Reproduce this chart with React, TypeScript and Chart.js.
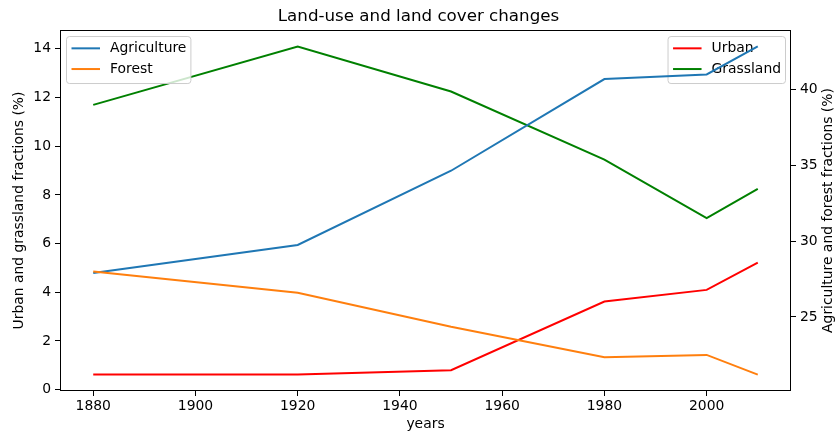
import React, { useEffect, useRef } from "react";
import { Chart, registerables } from "chart.js";

Chart.register(...registerables);

// ---- data ----
const years = [1880, 1920, 1950, 1980, 2000, 2010];
const agriculture = [27.9, 29.75, 34.65, 40.7, 41.0, 42.85];
const forest = [28.0, 26.6, 24.35, 22.35, 22.5, 21.2];
const urban = [0.62, 0.62, 0.8, 3.62, 4.1, 5.22];
const grassland = [11.7, 14.1, 12.25, 9.45, 7.05, 8.25];

const FONT = "'DejaVu Sans', 'Liberation Sans', sans-serif";
const FS = 13.9;

function padded(arrs: number[][]) {
  const all = arrs.flat();
  const mn = Math.min(...all);
  const mx = Math.max(...all);
  const m = (mx - mn) * 0.05;
  return { min: mn - m, max: mx + m };
}

function drawLegend(chart: any, axisId: string, side: "left" | "right") {
  const { ctx, chartArea: a } = chart;
  const items = chart.data.datasets.filter((d: any) => d.yAxisID === axisId);
  ctx.save();
  ctx.font = `${FS}px ${FONT}`;
  const tw = Math.max(...items.map((d: any) => ctx.measureText(d.label).width));
  const w = 44 + tw + 4;
  const h = 47;
  const x0 = side === "left" ? a.left + 6 : a.right - 6 - w;
  const y0 = a.top + 6;
  ctx.beginPath();
  if ((ctx as any).roundRect) (ctx as any).roundRect(x0 + 0.5, y0 + 0.5, w, h, 3);
  else ctx.rect(x0 + 0.5, y0 + 0.5, w, h);
  ctx.fillStyle = "rgba(255,255,255,0.8)";
  ctx.fill();
  ctx.strokeStyle = "#cccccc";
  ctx.lineWidth = 1;
  ctx.stroke();
  items.forEach((d: any, i: number) => {
    const y = y0 + 12.3 + i * 20.7;
    ctx.strokeStyle = d.borderColor;
    ctx.lineWidth = 2;
    ctx.beginPath();
    ctx.moveTo(x0 + 5.5, y);
    ctx.lineTo(x0 + 34, y);
    ctx.stroke();
    ctx.fillStyle = "#000";
    ctx.textBaseline = "middle";
    ctx.textAlign = "left";
    ctx.fillText(d.label, x0 + 44, y);
  });
  ctx.restore();
}

const decorPlugin = {
  id: "decor",
  afterDatasetDraw(chart: any, args: any) {
    const ds = chart.data.datasets[args.index];
    const leftOrders = chart.data.datasets
      .filter((d: any) => d.yAxisID === "yL")
      .map((d: any) => d.order);
    if (ds.yAxisID === "yL" && ds.order === Math.min(...leftOrders)) {
      drawLegend(chart, "yL", "right");
    }
  },
  afterDatasetsDraw(chart: any) {
    const { ctx, chartArea: a } = chart;
    ctx.save();
    ctx.strokeStyle = "#000";
    ctx.lineWidth = 1;
    ctx.strokeRect(
      Math.round(a.left) + 0.5,
      Math.round(a.top) + 0.5,
      Math.round(a.right) - Math.round(a.left) - 1,
      Math.round(a.bottom) - Math.round(a.top) - 1
    );
    // right axis title (reads bottom-to-top)
    ctx.translate(828, (a.top + a.bottom) / 2);
    ctx.rotate(-Math.PI / 2);
    ctx.font = `${FS}px ${FONT}`;
    ctx.fillStyle = "#000";
    ctx.textAlign = "center";
    ctx.textBaseline = "middle";
    ctx.fillText("Agriculture and forest fractions (%)", 0, 0);
    ctx.restore();
    drawLegend(chart, "yR", "left");
  },
};

export default function App() {
  const ref = useRef<HTMLCanvasElement>(null);
  useEffect(() => {
    document.body.style.margin = "0";
    const canvas = ref.current!;
    const xr = padded([years]);
    const lr = padded([urban, grassland]);
    const rr = padded([agriculture, forest]);
    const pts = (arr: number[]) => years.map((x, i) => ({ x, y: arr[i] }));
    const base = { pointRadius: 0, borderWidth: 2, tension: 0, fill: false };
    const tickFont = { family: FONT, size: FS };
    const grid = {
      display: true,
      drawOnChartArea: false,
      drawTicks: true,
      tickLength: 5,
      color: "#000",
      tickColor: "#000",
      tickWidth: 1,
    };
    const chart = new Chart(canvas, {
      type: "line",
      data: {
        datasets: [
          { ...base, label: "Agriculture", data: pts(agriculture), borderColor: "#1f77b4", backgroundColor: "#1f77b4", yAxisID: "yR", order: 2 },
          { ...base, label: "Forest", data: pts(forest), borderColor: "#ff7f0e", backgroundColor: "#ff7f0e", yAxisID: "yR", order: 1 },
          { ...base, label: "Urban", data: pts(urban), borderColor: "#ff0000", backgroundColor: "#ff0000", yAxisID: "yL", order: 4 },
          { ...base, label: "Grassland", data: pts(grassland), borderColor: "#008000", backgroundColor: "#008000", yAxisID: "yL", order: 3 },
        ] as any,
      },
      options: {
        animation: false,
        responsive: false,
        devicePixelRatio: 1,
        layout: { padding: 0 },
        plugins: {
          legend: { display: false },
          tooltip: { enabled: false },
          title: {
            display: true,
            text: "Land-use and land cover changes",
            color: "#000",
            font: { family: FONT, size: 16.7, weight: "normal" as any },
            padding: { top: 7, bottom: 3 },
          },
        },
        scales: {
          x: {
            type: "linear",
            min: xr.min,
            max: xr.max,
            grid,
            border: { display: false },
            ticks: {
              stepSize: 20,
              includeBounds: false,
              color: "#000",
              font: tickFont,
              padding: 2.5,
              maxRotation: 0,
              autoSkip: false,
              callback: (v: any) => String(v),
            },
            title: {
              display: true,
              text: "years",
              color: "#000",
              font: tickFont,
              padding: { top: 0, bottom: 7.2 },
            },
            afterFit: (s: any) => {
              s.height = 49;
            },
          },
          yL: {
            type: "linear",
            position: "left",
            min: lr.min,
            max: lr.max,
            grid,
            border: { display: false },
            ticks: {
              stepSize: 2,
              includeBounds: false,
              color: "#000",
              font: tickFont,
              padding: 4,
            },
            title: {
              display: true,
              text: "Urban and grassland fractions (%)",
              color: "#000",
              font: tickFont,
              padding: { top: 10.7, bottom: 0 },
            },
            afterFit: (s: any) => {
              s.width = 60;
            },
          },
          yR: {
            type: "linear",
            position: "right",
            min: rr.min,
            max: rr.max,
            grid,
            border: { display: false },
            ticks: {
              stepSize: 5,
              includeBounds: false,
              color: "#000",
              font: tickFont,
              padding: 4,
            },
            afterFit: (s: any) => {
              s.width = 46;
            },
          },
        },
      } as any,
      plugins: [decorPlugin as any],
    });
    return () => chart.destroy();
  }, []);
  return (
    <div style={{ width: 837, height: 440 }}>
      <canvas ref={ref} width={837} height={440} style={{ display: "block" }} />
    </div>
  );
}
